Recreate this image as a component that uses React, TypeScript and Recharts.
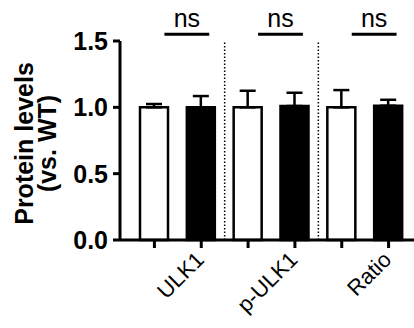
import React from 'react';
import { BarChart, Bar, XAxis, YAxis, Cell, ErrorBar, ReferenceLine, Label } from 'recharts';

const GROUPS = ['ULK1', 'p-ULK1', 'Ratio'];
const WT_MEAN = [1.0, 1.0, 1.0];
const KO_MEAN = [1.0, 1.01, 1.012];
const WT_SD = [0.025, 0.125, 0.13];
const KO_SD = [0.085, 0.1, 0.045];
const SIG_LABELS = ['ns', 'ns', 'ns'];
const SIG_Y = 1.55;
const Y_TICKS = [0, 0.5, 1.0, 1.5];

const FONT = '"Liberation Sans", Arial, sans-serif';

// one row per bar, WT then KO inside each group
const rows = GROUPS.flatMap((g, i) => [
  { key: `${g}|WT`, group: g, geno: 'WT', value: WT_MEAN[i], err: [0, WT_SD[i]] },
  { key: `${g}|KO`, group: g, geno: 'KO', value: KO_MEAN[i], err: [0, KO_SD[i]] },
]);

// group name goes once per pair, hung off the KO tick
const renderXTick = (props: any) => {
  const { x, y, payload } = props;
  const row = rows.find((r) => r.key === payload.value);
  if (!row || row.geno !== 'KO') return <g />;
  const ax = x - 7;
  return (
    <text
      x={ax}
      y={y}
      dy="0.71em"
      transform={`rotate(-45, ${ax}, ${y})`}
      textAnchor="end"
      fontSize={22}
      fontFamily={FONT}
      fill="#000"
    >
      {row.group}
    </text>
  );
};

const renderYTick = (props: any) => {
  const { x, y, payload } = props;
  return (
    <text x={x} y={y} dy="0.36em" textAnchor="end" fontSize={25} fontWeight={700} fontFamily={FONT} fill="#000">
      {Number(payload.value).toFixed(1)}
    </text>
  );
};

const YTitle = (props: any) => {
  const { viewBox } = props;
  const cy = viewBox.y + viewBox.height / 2 + 3;
  const lines = [
    { text: 'Protein levels', bx: 33 },
    { text: '(vs. WT)', bx: 56 },
  ];
  return (
    <g>
      {lines.map((l) => (
        <text
          key={l.text}
          x={l.bx}
          y={cy}
          transform={`rotate(-90, ${l.bx}, ${cy})`}
          textAnchor="middle"
          fontSize={25}
          fontWeight={700}
          fontFamily={FONT}
          fill="#000"
        >
          {l.text}
        </text>
      ))}
    </g>
  );
};

const SigMark = (props: any) => {
  const { x1, x2, y1, text } = props;
  const a = x1 + 10;
  const b = x2 + 8;
  return (
    <g>
      <line x1={a} x2={b} y1={y1} y2={y1} stroke="#000" strokeWidth={3} />
      <text x={(a + b) / 2} y={y1 - 7} textAnchor="middle" fontSize={25} fontFamily={FONT} fill="#000">
        {text}
      </text>
    </g>
  );
};

export default function App() {
  return (
    <div style={{ position: 'absolute', left: 0, top: 0, background: '#fff' }}>
      <BarChart width={414} height={328} data={rows} margin={{ top: 41, right: 0, bottom: 0, left: 0 }}>
        <XAxis
          dataKey="key"
          height={88}
          interval={0}
          padding={{ left: 11, right: 2 }}
          axisLine={{ stroke: '#000', strokeWidth: 3 }}
          tickLine={{ stroke: '#000', strokeWidth: 3 }}
          tickSize={8}
          tick={renderXTick}
        />
        <YAxis
          width={120}
          domain={[0, 1.5]}
          ticks={Y_TICKS}
          axisLine={{ stroke: '#000', strokeWidth: 3 }}
          tickLine={{ stroke: '#000', strokeWidth: 3 }}
          tickSize={7}
          tickMargin={5}
          tick={renderYTick}
        >
          <Label content={<YTitle />} />
        </YAxis>
        {GROUPS.slice(0, -1).map((g) => (
          <ReferenceLine
            key={`sep-${g}`}
            x={`${g}|KO`}
            position="end"
            stroke="#000"
            strokeWidth={1.5}
            strokeDasharray="1.5 2"
          />
        ))}
        <Bar dataKey="value" barSize={28} stroke="#000" strokeWidth={2.5} isAnimationActive={false}>
          {rows.map((r) => (
            <Cell key={r.key} fill={r.geno === 'WT' ? '#fff' : '#000'} />
          ))}
          <ErrorBar dataKey="err" direction="y" width={8} stroke="#000" strokeWidth={2.5} isAnimationActive={false} />
        </Bar>
        {GROUPS.map((g, i) => (
          <ReferenceLine
            key={`sig-${g}`}
            segment={[
              { x: `${g}|WT`, y: SIG_Y },
              { x: `${g}|KO`, y: SIG_Y },
            ]}
            ifOverflow="visible"
            shape={(p: any) => <SigMark {...p} text={SIG_LABELS[i]} />}
          />
        ))}
      </BarChart>
    </div>
  );
}
